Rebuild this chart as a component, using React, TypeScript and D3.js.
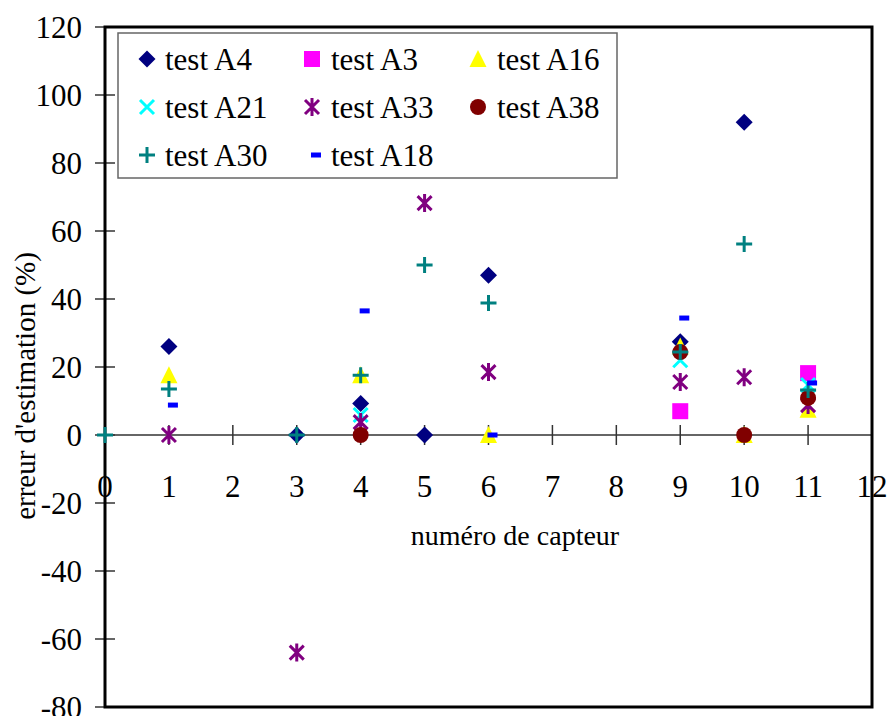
import React from 'react';
import * as d3 from 'd3';

// Data: [sensor number, estimation error %]
const testA4: [number, number][] = [[1, 26], [3, 0], [4, 9.3], [5, 0], [6, 47], [9, 27.4], [10, 92]];
const testA3: [number, number][] = [[9, 7], [11, 18.2]];
const testA16: [number, number][] = [[1, 17.6], [4, 17.6], [6, 0], [9, 26], [10, 0], [11, 7.4]];
const testA21: [number, number][] = [[4, 5.9], [9, 22], [11, 14.7]];
const testA33: [number, number][] = [[1, 0], [3, -64], [4, 3.8], [5, 68.2], [6, 18.5], [9, 15.6], [10, 17], [11, 8.8]];
const testA38: [number, number][] = [[4, 0], [9, 24.4], [10, 0], [11, 10.9]];
const testA30: [number, number][] = [[0, 0], [1, 13.5], [3, 0], [4, 17.6], [5, 50], [6, 38.8], [9, 24.4], [10, 56.2], [11, 13.2]];
const testA18: [number, number][] = [[1, 8.8], [4, 36.5], [6, 0], [9, 34.4], [11, 15.3]];

const seriesNames = ['test A4', 'test A3', 'test A16', 'test A21', 'test A33', 'test A38', 'test A30', 'test A18'];
const seriesData = [testA4, testA3, testA16, testA21, testA33, testA38, testA30, testA18];
const seriesShapes = ['diamond', 'square', 'triangle', 'x', 'asterisk', 'circle', 'plus', 'dash'];
const seriesColors = ['#000080', '#FF00FF', '#FFFF00', '#00FFFF', '#800080', '#800000', '#008080', '#0000FF'];

const xTicks = d3.range(0, 13);
const yTicks = d3.range(-80, 121, 20);

const FONT = "'Liberation Serif', 'Times New Roman', Times, serif";
const txt = { fontFamily: FONT };

function Marker({ shape, color, x, y }: { shape: string; color: string; x: number; y: number }) {
  const t = `translate(${x},${y})`;
  switch (shape) {
    case 'diamond':
      return <path transform={t} d="M0,-8.5L8.5,0L0,8.5L-8.5,0Z" fill={color} />;
    case 'square':
      return <rect transform={t} x={-8} y={-8} width={16} height={16} fill={color} />;
    case 'triangle':
      return <path transform={t} d="M0,-9L8.5,8L-8.5,8Z" fill={color} />;
    case 'circle':
      return <circle transform={t} r={8} fill={color} />;
    case 'x':
      return (
        <path transform={t} d="M-7,-7L7,7M-7,7L7,-7" stroke={color} strokeWidth={3} fill="none" />
      );
    case 'asterisk':
      return (
        <path transform={t} d="M-7,-7L7,7M-7,7L7,-7M0,-9L0,9" stroke={color} strokeWidth={3} fill="none" />
      );
    case 'plus':
      return <path transform={t} d="M-8,0L8,0M0,-8L0,8" stroke={color} strokeWidth={3} fill="none" />;
    case 'dash':
      return <rect transform={t} x={-1} y={-2.5} width={10} height={5} fill={color} />;
    default:
      return null;
  }
}

export default function App() {
  const W = 890;
  const H = 716;
  const left = 105;
  const right = 872;
  const top = 27;
  const bottom = 707;

  const x = d3.scaleLinear().domain([0, 12]).range([left, right]);
  const y = d3.scaleLinear().domain([-80, 120]).range([bottom, top]);
  const y0 = y(0);

  const legendCols = [147, 312, 478];
  const legendTextCols = [165, 331, 497];
  const legendRows = [59, 107, 155];

  return (
    <svg
      width={W}
      height={H}
      style={{ position: 'absolute', left: 0, top: 0, display: 'block', background: '#fff' }}
    >
      <rect x={0} y={0} width={W} height={H} fill="#fff" />

      {/* x axis at zero */}
      <line x1={left} x2={right} y1={y0} y2={y0} stroke="#666" strokeWidth={2} />
      {xTicks.map((t) => (
        <line key={'xt' + t} x1={x(t)} x2={x(t)} y1={y0 - 10} y2={y0 + 10} stroke="#333" strokeWidth={1.5} />
      ))}

      {/* y ticks */}
      {yTicks.map((t) => (
        <line key={'yt' + t} x1={left - 10} x2={left + 10} y1={y(t)} y2={y(t)} stroke="#333" strokeWidth={1.5} />
      ))}

      {/* plot frame */}
      <rect x={left} y={top} width={right - left} height={bottom - top} fill="none" stroke="#000" strokeWidth={3} />

      {/* y tick labels */}
      {yTicks.map((t) => (
        <text key={'yl' + t} x={82} y={y(t) + 11} textAnchor="end" fontSize={31} fill="#000" style={txt}>
          {t}
        </text>
      ))}

      {/* x tick labels */}
      {xTicks.map((t) => (
        <text key={'xl' + t} x={x(t)} y={497} textAnchor="middle" fontSize={31} fill="#000" style={txt}>
          {t}
        </text>
      ))}

      {/* axis titles */}
      <text x={515} y={545} textAnchor="middle" fontSize={28} fill="#000" style={txt}>
        numéro de capteur
      </text>
      <text
        transform={`translate(35,386) rotate(-90)`}
        textAnchor="middle"
        fontSize={29}
        fill="#000"
        style={txt}
      >
        erreur d'estimation (%)
      </text>

      {/* data */}
      {seriesData.map((data, si) => (
        <g key={'s' + si}>
          {data.map(([sx, sy], i) => (
            <Marker key={i} shape={seriesShapes[si]} color={seriesColors[si]} x={x(sx)} y={y(sy)} />
          ))}
        </g>
      ))}

      {/* legend */}
      <rect x={118} y={33} width={499} height={145} fill="#fff" stroke="#666" strokeWidth={1.5} />
      {seriesNames.map((name, i) => {
        const col = i % 3;
        const row = Math.floor(i / 3);
        return (
          <g key={'lg' + i}>
            <Marker shape={seriesShapes[i]} color={seriesColors[i]} x={legendCols[col]} y={legendRows[row]} />
            <text x={legendTextCols[col]} y={legendRows[row] + 11} fontSize={31} fill="#000" style={txt}>
              {name}
            </text>
          </g>
        );
      })}
    </svg>
  );
}
